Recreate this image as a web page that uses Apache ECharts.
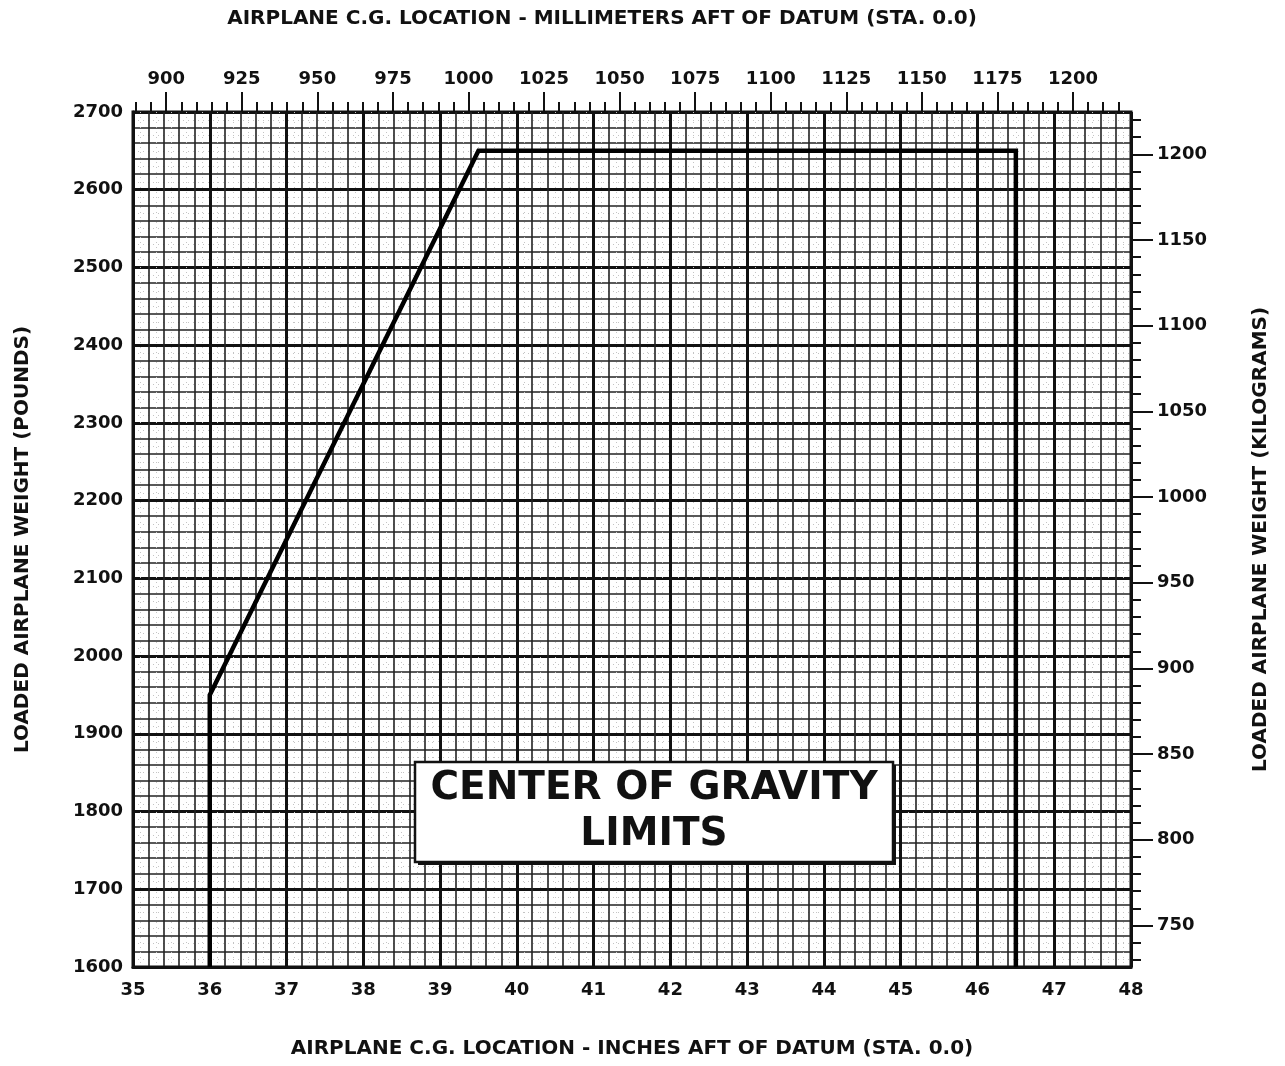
<!DOCTYPE html>
<html>
<head>
<meta charset="utf-8">
<script src="https://cdn.jsdelivr.net/npm/echarts@6/dist/echarts.min.js"></script>
<style>
  html, body { margin: 0; padding: 0; background: #fff; }
  #main { width: 1285px; height: 1066px; }
</style>
</head>
<body>
<div id="main"></div>
<script>
// axis ranges (inches / pounds), other units are converted from these
const inchRange = [35, 48];
const lbRange = [1600, 2700];
const MM_PER_IN = 25.4;
const LB_PER_KG = 2.20462;

// labelled ticks on the secondary axes
const mmLabels = [900, 925, 950, 975, 1000, 1025, 1050, 1075, 1100, 1125, 1150, 1175, 1200];
const kgLabels = [750, 800, 850, 900, 950, 1000, 1050, 1100, 1150, 1200];

// C.G. envelope outline (inches, pounds)
const cgInches = [36, 36, 39.5, 46.5, 46.5];
const cgPounds = [1600, 1950, 2650, 2650, 1600];

// small ticks: every 5 mm / every 10 kg
const mmTicks = [];
for (let v = 890; v <= 1215; v += 5) mmTicks.push(v);
const kgTicks = [];
for (let v = 730; v <= 1220; v += 10) kgTicks.push(v);

const ink = '#111';
const font = 'DejaVu Sans';

const mmMin = inchRange[0] * MM_PER_IN, mmMax = inchRange[1] * MM_PER_IN;
const kgMin = lbRange[0] / LB_PER_KG, kgMax = lbRange[1] / LB_PER_KG;

const plain = v => String(Math.round(v));   // no thousands separator
const nameStyle = { color: ink, fontFamily: font, fontSize: 20, fontWeight: 'bold' };
const labelStyle = { color: ink, fontFamily: font, fontSize: 18, fontWeight: 'bold', formatter: plain };

const myChart = echarts.init(document.getElementById('main'), null, { renderer: 'canvas' });

myChart.setOption({
  backgroundColor: '#fff',
  animation: false,
  // the top heading sits a little left of the plot centre in the original
  title: {
    text: 'AIRPLANE C.G. LOCATION - MILLIMETERS AFT OF DATUM (STA. 0.0)',
    left: 597, top: 4, textAlign: 'center',
    textStyle: { color: ink, fontFamily: font, fontSize: 20, fontWeight: 'bold' }
  },
  grid: {
    left: 133, right: 154, top: 112, bottom: 99,
    show: true, borderColor: ink, borderWidth: 3
  },
  xAxis: [
    {
      // inches, bottom
      type: 'value', position: 'bottom',
      min: inchRange[0], max: inchRange[1], interval: 1,
      axisLine: { lineStyle: { color: ink, width: 3 } },
      axisTick: { show: false },
      minorTick: { show: true, splitNumber: 5, length: 0 },
      axisLabel: Object.assign({ margin: 14 }, labelStyle),
      splitLine: { lineStyle: { color: ink, width: 3 } },
      minorSplitLine: { show: true, lineStyle: { color: '#222', width: 1.6 } },
      name: 'AIRPLANE C.G. LOCATION - INCHES AFT OF DATUM (STA. 0.0)',
      nameLocation: 'middle', nameGap: 72, nameTextStyle: nameStyle
    },
    {
      // millimetres, top: short ticks
      type: 'value', position: 'top',
      min: mmMin, max: mmMax,
      axisLine: { show: false },
      axisTick: { customValues: mmTicks, length: 10, lineStyle: { color: ink, width: 2 } },
      axisLabel: { show: false },
      splitLine: { show: false }
    },
    {
      // millimetres, top: long ticks and labels
      type: 'value', position: 'top',
      min: mmMin, max: mmMax,
      axisLine: { show: false },
      axisTick: { customValues: mmLabels, length: 20, lineStyle: { color: ink, width: 2 } },
      axisLabel: Object.assign({ customValues: mmLabels, margin: 24 }, labelStyle),
      splitLine: { show: false }
    },
    {
      // faint 0.1 in dotted rulings
      type: 'value', position: 'bottom',
      min: inchRange[0], max: inchRange[1], interval: 0.2,
      axisLine: { show: false }, axisTick: { show: false }, axisLabel: { show: false },
      splitLine: { show: false },
      minorTick: { show: true, splitNumber: 2, length: 0 },
      minorSplitLine: { show: true, lineStyle: { color: '#c4c4c4', width: 1, type: [1, 4] } }
    }
  ],
  yAxis: [
    {
      // pounds, left
      type: 'value', position: 'left',
      min: lbRange[0], max: lbRange[1], interval: 100,
      axisLine: { lineStyle: { color: ink, width: 3 } },
      axisTick: { show: false },
      minorTick: { show: true, splitNumber: 5, length: 0 },
      axisLabel: Object.assign({ margin: 10 }, labelStyle),
      splitLine: { lineStyle: { color: ink, width: 3 } },
      minorSplitLine: { show: true, lineStyle: { color: '#222', width: 1.6 } },
      name: 'LOADED AIRPLANE WEIGHT (POUNDS)',
      nameLocation: 'middle', nameRotate: 90, nameGap: 100, nameTextStyle: nameStyle
    },
    {
      // kilograms, right: short ticks
      type: 'value', position: 'right',
      min: kgMin, max: kgMax,
      axisLine: { show: false },
      axisTick: { customValues: kgTicks, length: 10, lineStyle: { color: ink, width: 2 } },
      axisLabel: { show: false },
      splitLine: { show: false }
    },
    {
      // kilograms, right: long ticks and labels
      type: 'value', position: 'right',
      min: kgMin, max: kgMax,
      axisLine: { show: false },
      axisTick: { customValues: kgLabels, length: 22, lineStyle: { color: ink, width: 2 } },
      axisLabel: Object.assign({ customValues: kgLabels, margin: 26 }, labelStyle),
      splitLine: { show: false },
      name: 'LOADED AIRPLANE WEIGHT (KILOGRAMS)',
      nameLocation: 'middle', nameRotate: 90, nameGap: 120, nameTextStyle: nameStyle
    },
    {
      // faint 10 lb dotted rulings
      type: 'value', position: 'left',
      min: lbRange[0], max: lbRange[1], interval: 20,
      axisLine: { show: false }, axisTick: { show: false }, axisLabel: { show: false },
      splitLine: { show: false },
      minorTick: { show: true, splitNumber: 2, length: 0 },
      minorSplitLine: { show: true, lineStyle: { color: '#c4c4c4', width: 1, type: [1, 4] } }
    }
  ],
  series: [
    {
      type: 'line',
      xAxisIndex: 0, yAxisIndex: 0,
      data: cgInches.map((x, i) => [x, cgPounds[i]]),
      symbol: 'none',
      lineStyle: { color: '#000', width: 4.5, join: 'miter' },
      z: 5
    }
  ],
  graphic: [
    { type: 'rect', z: 100, shape: { x: 418, y: 765, width: 478, height: 100 },
      style: { fill: ink } },
    { type: 'rect', z: 101, shape: { x: 415, y: 762, width: 478, height: 100 },
      style: { fill: '#fff', stroke: ink, lineWidth: 2.5 } },
    { type: 'text', z: 102, x: 654, y: 812,
      style: {
        text: 'CENTER OF GRAVITY\nLIMITS',
        fill: ink, font: 'bold 39px "DejaVu Sans"',
        align: 'center', verticalAlign: 'middle', lineHeight: 46
      } }
  ]
});
</script>
</body>
</html>
